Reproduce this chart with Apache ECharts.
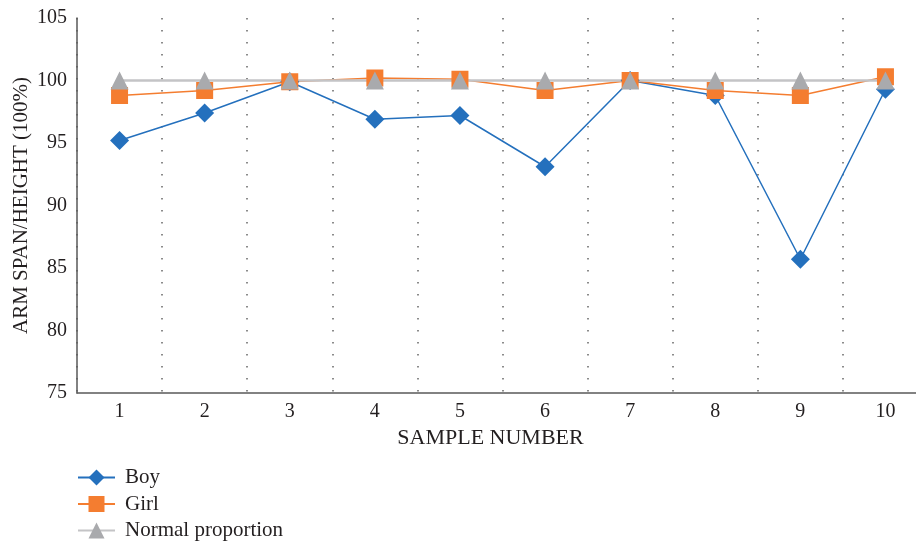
<!DOCTYPE html>
<html>
<head>
<meta charset="utf-8">
<script src="https://cdn.jsdelivr.net/npm/echarts@6/dist/echarts.min.js"></script>
<style>html,body{margin:0;padding:0;background:#fff}#c{width:916px;height:545px}</style>
</head>
<body>
<div id="c"></div>
<script>
var categories = ['1','2','3','4','5','6','7','8','9','10'];
var boy = [95.2, 97.4, 99.9, 96.9, 97.2, 93.1, 100.0, 98.8, 85.7, 99.3];
var girl = [98.8, 99.2, 99.9, 100.2, 100.1, 99.2, 100.0, 99.2, 98.8, 100.3];
var normal = [100, 100, 100, 100, 100, 100, 100, 100, 100, 100];

var font = 'Liberation Serif';
var chart = echarts.init(document.getElementById('c'));
chart.setOption({
  animation: false,
  textStyle: {fontFamily: font},
  grid: {left: 77, top: 18, width: 851, height: 375, containLabel: false, outerBoundsMode: 'none'},
  legend: {
    orient: 'vertical', left: 77, top: 467, padding: 0, itemWidth: 37, itemHeight: 20, itemGap: 5.5,
    height: 90,
    textStyle: {fontFamily: font, fontSize: 21, lineHeight: 21, color: '#231f20', padding: [0, 0, 0, 5]},
    data: ['Boy', 'Girl', 'Normal proportion']
  },
  xAxis: {
    type: 'category', data: categories, boundaryGap: true,
    name: 'SAMPLE NUMBER', nameLocation: 'middle', nameGap: 32,
    nameTextStyle: {fontFamily: font, fontSize: 22, color: '#231f20', padding: [0, 24, 0, 0]},
    axisLine: {lineStyle: {color: '#595959', width: 1.5}},
    axisTick: {show: false},
    axisLabel: {fontFamily: font, fontSize: 20, color: '#231f20', margin: 9},
    splitLine: {show: true, lineStyle: {color: '#666', width: 1.5, type: [1.5, 10.5]}}
  },
  yAxis: {
    type: 'value', min: 75, max: 105, interval: 5,
    name: 'ARM SPAN/HEIGHT (100%)', nameLocation: 'middle', nameGap: 45, nameMoveOverlap: false,
    nameTextStyle: {fontFamily: font, fontSize: 21, color: '#231f20'},
    axisLine: {show: true, lineStyle: {color: '#595959', width: 1.5}},
    axisTick: {show: false},
    axisLabel: {fontFamily: font, fontSize: 20, color: '#231f20', margin: 10},
    splitLine: {show: false}
  },
  series: [
    {name: 'Boy', type: 'line', data: boy, symbol: 'diamond', symbolSize: 19,
     lineStyle: {color: '#2470bd', width: 1.5}, itemStyle: {color: '#2470bd'}},
    {name: 'Girl', type: 'line', data: girl, symbol: 'rect', symbolSize: 17,
     lineStyle: {color: '#f47d30', width: 1.5}, itemStyle: {color: '#f47d30'}},
    {name: 'Normal proportion', type: 'line', data: normal, symbol: 'triangle', symbolSize: 18,
     lineStyle: {color: '#c4c4c6', width: 2.5}, itemStyle: {color: '#a9aaad'}}
  ]
});
</script>
</body>
</html>
